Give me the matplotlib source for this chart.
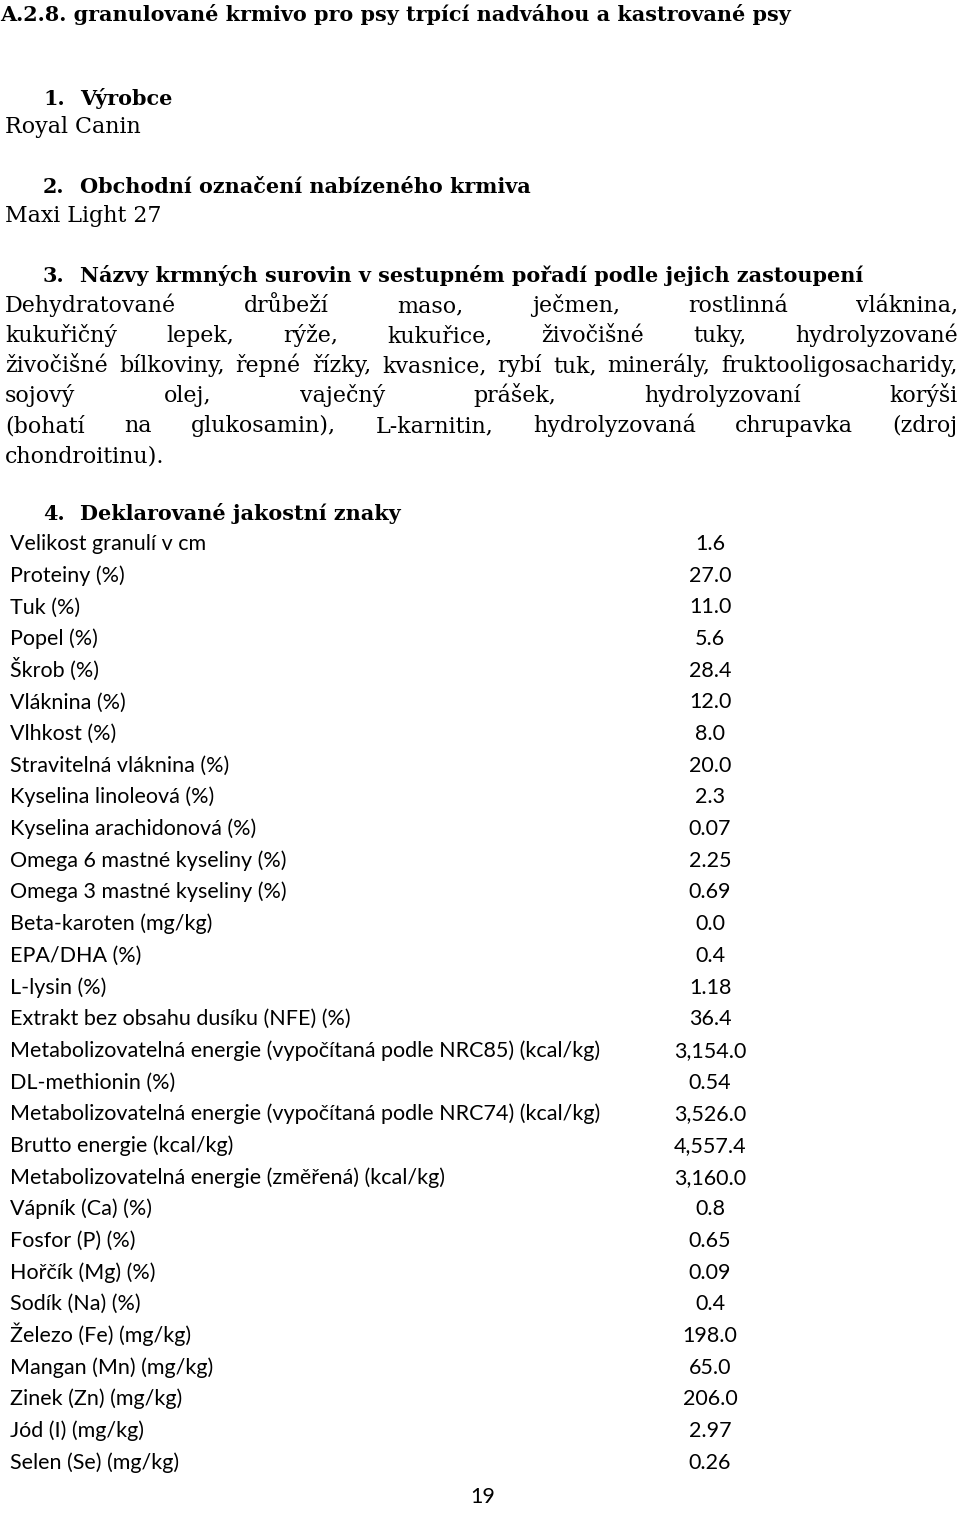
import matplotlib

matplotlib.use("Agg")

import matplotlib.pyplot as plt


TITLE = "A.2.8. granulované krmivo pro psy trpící nadváhou a kastrované psy"

SECTION_NUMBERS = ["1.", "2.", "3.", "4."]
SECTION_TITLES = [
    "Výrobce",
    "Obchodní označení nabízeného krmiva",
    "Názvy krmných surovin v sestupném pořadí podle jejich zastoupení",
    "Deklarované jakostní znaky",
]
PRODUCER = "Royal Canin"
PRODUCT_NAME = "Maxi Light 27"

# ingredient paragraph, one entry per typeset line (justified)
INGREDIENT_LINES = [
    "Dehydratované drůbeží maso, ječmen, rostlinná vláknina,",
    "kukuřičný lepek, rýže, kukuřice, živočišné tuky, hydrolyzované",
    "živočišné bílkoviny, řepné řízky, kvasnice, rybí tuk, minerály, fruktooligosacharidy,",
    "sojový olej, vaječný prášek, hydrolyzovaní korýši",
    "(bohatí na glukosamin), L-karnitin, hydrolyzovaná chrupavka (zdroj",
    "chondroitinu).",
]

TRAIT_LABELS = [
    "Velikost granulí v cm",
    "Proteiny (%)",
    "Tuk (%)",
    "Popel (%)",
    "Škrob (%)",
    "Vláknina (%)",
    "Vlhkost (%)",
    "Stravitelná vláknina (%)",
    "Kyselina linoleová (%)",
    "Kyselina arachidonová (%)",
    "Omega 6 mastné kyseliny (%)",
    "Omega 3 mastné kyseliny (%)",
    "Beta-karoten (mg/kg)",
    "EPA/DHA (%)",
    "L-lysin (%)",
    "Extrakt bez obsahu dusíku (NFE) (%)",
    "Metabolizovatelná energie (vypočítaná podle NRC85) (kcal/kg)",
    "DL-methionin (%)",
    "Metabolizovatelná energie (vypočítaná podle NRC74) (kcal/kg)",
    "Brutto energie (kcal/kg)",
    "Metabolizovatelná energie (změřená) (kcal/kg)",
    "Vápník (Ca) (%)",
    "Fosfor (P) (%)",
    "Hořčík (Mg) (%)",
    "Sodík (Na) (%)",
    "Železo (Fe) (mg/kg)",
    "Mangan (Mn) (mg/kg)",
    "Zinek (Zn) (mg/kg)",
    "Jód (I) (mg/kg)",
    "Selen (Se) (mg/kg)",
]
TRAIT_VALUES = [
    "1.6", "27.0", "11.0", "5.6", "28.4", "12.0", "8.0", "20.0", "2.3", "0.07",
    "2.25", "0.69", "0.0", "0.4", "1.18", "36.4", "3,154.0", "0.54", "3,526.0",
    "4,557.4", "3,160.0", "0.8", "0.65", "0.09", "0.4", "198.0", "65.0", "206.0",
    "2.97", "0.26",
]
PAGE_NUMBER = "19"

SERIF = "DejaVu Serif"
SANS = "Lato"
INK = "#000000"


def text_width(ax, renderer, s, **kw):
    t = ax.text(0, 0, s, **kw)
    w = t.get_window_extent(renderer).width
    t.remove()
    return w


def fit_size(ax, renderer, s, target, **kw):
    return 10 * target / text_width(ax, renderer, s, fontsize=10, **kw)


def draw_justified(ax, renderer, line, left, right, y, justify, **kw):
    words = line.split()
    if not justify or len(words) < 2:
        ax.text(left, y, line, ha="left", va="baseline", **kw)
        return
    widths = [text_width(ax, renderer, w, **kw) for w in words]
    gap = (right - left - sum(widths)) / (len(words) - 1)
    x = left
    for word, w in zip(words, widths):
        ax.text(x, y, word, ha="left", va="baseline", **kw)
        x += w + gap


fig = plt.figure(figsize=(9.6, 15.15), dpi=100)
ax = fig.add_axes([0, 0, 1, 1])
ax.set_xlim(0, 960)
ax.set_ylim(1515, 0)
ax.axis("off")
renderer = fig.canvas.get_renderer()

bold_size = fit_size(ax, renderer, SECTION_TITLES[2], 783, family=SERIF, fontweight="bold")
body_size = fit_size(ax, renderer, INGREDIENT_LINES[2], 925, family=SERIF)
table_size = fit_size(ax, renderer, TRAIT_LABELS[16], 588, family=SANS)

bold = dict(family=SERIF, fontweight="bold", fontsize=bold_size, color=INK)
body = dict(family=SERIF, fontsize=body_size, color=INK)
table = dict(family=SANS, fontsize=table_size, color=INK)

ax.text(0, 21, TITLE, ha="left", va="baseline", **bold)

heading_baselines = [105, 193, 282, 520]
for number, title, y in zip(SECTION_NUMBERS, SECTION_TITLES, heading_baselines):
    ax.text(43, y, number, ha="left", va="baseline", **bold)
    ax.text(80, y, title, ha="left", va="baseline", **bold)

ax.text(5, 133, PRODUCER, ha="left", va="baseline", **body)
ax.text(5, 222, PRODUCT_NAME, ha="left", va="baseline", **body)

for i, line in enumerate(INGREDIENT_LINES):
    last = i == len(INGREDIENT_LINES) - 1
    draw_justified(ax, renderer, line, 5, 958, 312 + 30 * i, not last, **body)

row_step = 31.68
for i, (label, value) in enumerate(zip(TRAIT_LABELS, TRAIT_VALUES)):
    y = 550 + row_step * i
    ax.text(10, y, label, ha="left", va="baseline", **table)
    ax.text(710, y, value, ha="center", va="baseline", **table)

ax.text(483, 1503, PAGE_NUMBER, ha="center", va="baseline", **table)

fig.savefig("out.png", dpi=100, facecolor="white")
plt.close(fig)
